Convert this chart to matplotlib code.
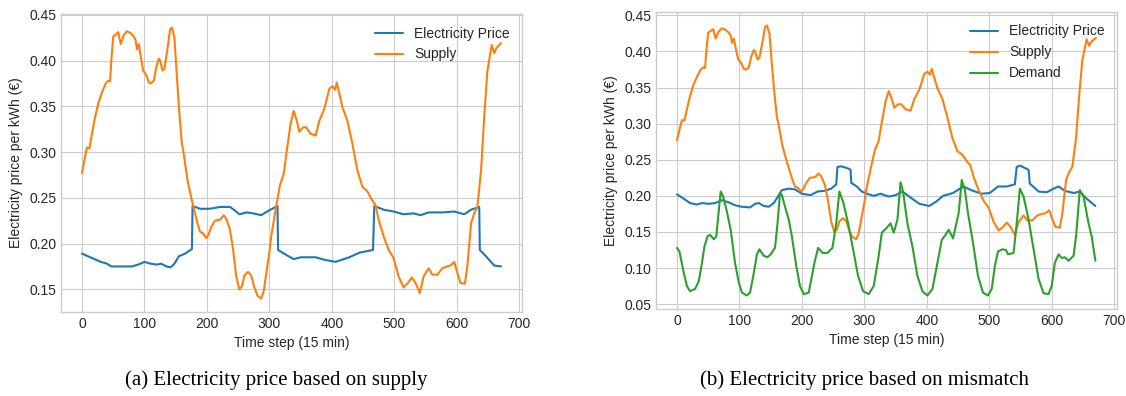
import numpy as np
import matplotlib
matplotlib.use("Agg")
import matplotlib.pyplot as plt

supply_t = [0, 5, 8, 12, 15, 20, 26, 32, 38, 42, 45, 47, 50, 55, 58, 62, 67, 72, 78, 83,
            86, 88, 91, 94, 98, 103, 107, 110, 115, 119, 123, 125, 129, 132, 138, 141, 144,
            148, 152, 156, 160, 162, 169, 176, 181, 185, 189, 194, 199, 202, 207, 213, 221,
            227, 231, 237, 242, 247, 252, 256, 260, 266, 271, 276, 281, 287, 291, 296, 300,
            303, 310, 317, 323, 328, 334, 339, 344, 348, 354, 359, 366, 374, 380, 388, 396,
            401, 405, 408, 411, 417, 425, 433, 441, 449, 457, 463, 470, 475, 483, 491, 499,
            507, 515, 522, 528, 534, 541, 547, 555, 561, 569, 577, 585, 590, 596, 601, 606,
            613, 617, 623, 628, 633, 639, 644, 649, 656, 660, 664, 671]
supply_v = [0.277, 0.295, 0.305, 0.304, 0.316, 0.335, 0.353, 0.365, 0.375, 0.378, 0.377, 0.400,
            0.426, 0.429, 0.431, 0.418, 0.428, 0.432, 0.430, 0.426, 0.422, 0.412, 0.418, 0.405,
            0.389, 0.384, 0.376, 0.375, 0.378, 0.393, 0.402, 0.400, 0.389, 0.391, 0.418, 0.434,
            0.436, 0.425, 0.382, 0.342, 0.309, 0.302, 0.269, 0.247, 0.233, 0.222, 0.213, 0.211,
            0.206, 0.209, 0.218, 0.225, 0.226, 0.231, 0.227, 0.215, 0.193, 0.164, 0.150, 0.153,
            0.165, 0.169, 0.165, 0.152, 0.143, 0.140, 0.148, 0.172, 0.190, 0.208, 0.237, 0.264,
            0.276, 0.302, 0.331, 0.345, 0.334, 0.322, 0.327, 0.327, 0.320, 0.318, 0.334, 0.347,
            0.369, 0.372, 0.368, 0.376, 0.367, 0.349, 0.334, 0.309, 0.280, 0.262, 0.257, 0.249,
            0.242, 0.226, 0.208, 0.193, 0.184, 0.164, 0.152, 0.157, 0.163, 0.157, 0.146, 0.164,
            0.173, 0.166, 0.166, 0.173, 0.175, 0.176, 0.180, 0.168, 0.157, 0.156, 0.175, 0.222,
            0.233, 0.240, 0.280, 0.338, 0.388, 0.417, 0.408, 0.414, 0.419]

price_supply_t = [0, 10, 20, 30, 40, 47, 60, 80, 90, 100, 110, 120, 127, 135, 142, 148, 155, 165,
                  176, 177, 189, 205, 221, 237, 245, 252, 264, 274, 287, 299, 313, 314, 326, 339,
                  350, 374, 390, 406, 428, 444, 466, 468, 483, 499, 515, 531, 542, 555, 577, 596,
                  612, 623, 636, 637, 647, 660, 671]
price_supply_v = [0.189, 0.186, 0.183, 0.180, 0.178, 0.175, 0.175, 0.175, 0.177, 0.180, 0.178,
                  0.177, 0.178, 0.175, 0.174, 0.178, 0.186, 0.189, 0.194, 0.241, 0.238, 0.238,
                  0.240, 0.240, 0.236, 0.232, 0.234, 0.233, 0.231, 0.236, 0.241, 0.193, 0.188,
                  0.183, 0.185, 0.185, 0.182, 0.180, 0.185, 0.190, 0.193, 0.241, 0.237, 0.235,
                  0.232, 0.233, 0.231, 0.234, 0.234, 0.235, 0.232, 0.237, 0.240, 0.193, 0.186,
                  0.176, 0.175]

price_mismatch_t = [0, 11, 21, 32, 40, 51, 61, 72, 83, 93, 103, 117, 125, 131, 139, 147, 155, 163,
                    168, 179, 189, 200, 214, 225, 236, 247, 255, 257, 263, 274, 278, 279, 288, 296,
                    304, 315, 326, 339, 350, 361, 372, 388, 404, 415, 426, 442, 453, 459, 466, 474,
                    488, 501, 514, 528, 541, 544, 549, 563, 565, 579, 592, 603, 611, 621, 635, 645,
                    656, 670]
price_mismatch_v = [0.202, 0.196, 0.190, 0.188, 0.190, 0.189, 0.190, 0.194, 0.191, 0.187, 0.185,
                    0.184, 0.189, 0.190, 0.186, 0.185, 0.190, 0.201, 0.208, 0.210, 0.209, 0.203,
                    0.201, 0.206, 0.207, 0.210, 0.216, 0.240, 0.241, 0.238, 0.236, 0.218, 0.213,
                    0.206, 0.203, 0.200, 0.203, 0.199, 0.201, 0.206, 0.199, 0.189, 0.186, 0.192,
                    0.200, 0.204, 0.210, 0.213, 0.210, 0.207, 0.203, 0.204, 0.213, 0.213, 0.216,
                    0.240, 0.242, 0.236, 0.217, 0.206, 0.205, 0.210, 0.213, 0.207, 0.204, 0.206,
                    0.196, 0.186]

demand_t = [0, 4, 11, 16, 21, 29, 35, 40, 44, 49, 53, 59, 63, 67, 70, 74, 80, 86, 93, 99, 104,
            112, 117, 123, 128, 132, 139, 145, 150, 157, 161, 165, 168, 173, 179, 184, 191, 197,
            203, 211, 220, 226, 233, 241, 249, 255, 260, 266, 274, 282, 290, 298, 307, 315, 323,
            328, 335, 342, 347, 353, 358, 362, 369, 377, 385, 393, 401, 409, 417, 424, 430, 435,
            442, 451, 456, 461, 466, 474, 482, 490, 498, 504, 509, 514, 521, 527, 530, 539, 544,
            549, 555, 563, 571, 579, 587, 595, 600, 605, 611, 616, 621, 627, 635, 639, 645, 651,
            659, 664, 670]
demand_v = [0.128, 0.123, 0.093, 0.075, 0.068, 0.071, 0.082, 0.107, 0.130, 0.144, 0.146, 0.140,
            0.144, 0.180, 0.206, 0.199, 0.178, 0.153, 0.107, 0.080, 0.066, 0.062, 0.066, 0.093,
            0.119, 0.126, 0.117, 0.115, 0.119, 0.128, 0.162, 0.204, 0.201, 0.185, 0.167, 0.144,
            0.103, 0.075, 0.064, 0.066, 0.107, 0.128, 0.121, 0.121, 0.128, 0.162, 0.206, 0.192,
            0.162, 0.126, 0.089, 0.068, 0.064, 0.075, 0.117, 0.149, 0.155, 0.162, 0.149, 0.167,
            0.219, 0.206, 0.162, 0.130, 0.089, 0.068, 0.062, 0.071, 0.107, 0.139, 0.146, 0.153,
            0.141, 0.176, 0.222, 0.208, 0.176, 0.135, 0.089, 0.066, 0.062, 0.071, 0.103, 0.123,
            0.126, 0.125, 0.119, 0.121, 0.162, 0.210, 0.199, 0.167, 0.126, 0.085, 0.065, 0.064,
            0.075, 0.107, 0.119, 0.114, 0.115, 0.110, 0.117, 0.144, 0.208, 0.199, 0.162, 0.144,
            0.110]

captions = ["(a) Electricity price based on supply", "(b) Electricity price based on mismatch"]

plt.style.use("seaborn-v0_8-whitegrid")
plt.rcParams["font.family"] = ["Liberation Sans", "DejaVu Sans"]
plt.rcParams["font.size"] = 10

fig = plt.figure(figsize=(11.26, 3.96), dpi=100)
ax1 = fig.add_axes([0.0542, 0.2121, 0.4094, 0.7525])
ax2 = fig.add_axes([0.5826, 0.2197, 0.4094, 0.75])

ax1.plot(price_supply_t, price_supply_v, color="#1f77b4", lw=1.5, label="Electricity Price")
ax1.plot(supply_t, supply_v, color="#ff7f0e", lw=1.5, label="Supply")

ax2.plot(price_mismatch_t, price_mismatch_v, color="#1f77b4", lw=1.5, label="Electricity Price")
ax2.plot(supply_t, supply_v, color="#ff7f0e", lw=1.5, label="Supply")
ax2.plot(demand_t, demand_v, color="#2ca02c", lw=1.5, label="Demand")

for ax in (ax1, ax2):
    ax.set_xticks([0, 100, 200, 300, 400, 500, 600, 700])
    ax.set_xlabel("Time step (15 min)")
    ax.set_ylabel("Electricity price per kWh (€)")
    ax.legend(loc="upper right", frameon=False)
    ax.tick_params(labelsize=10, colors=".15")
    ax.yaxis.set_major_formatter(matplotlib.ticker.FormatStrFormatter("%.2f"))

fig.text(0.245, 0.04, captions[0], ha="center", va="center",
         family="Liberation Serif", fontsize=15, color="black")
fig.text(0.768, 0.04, captions[1], ha="center", va="center",
         family="Liberation Serif", fontsize=15, color="black")

fig.savefig("out.png", dpi=100)
